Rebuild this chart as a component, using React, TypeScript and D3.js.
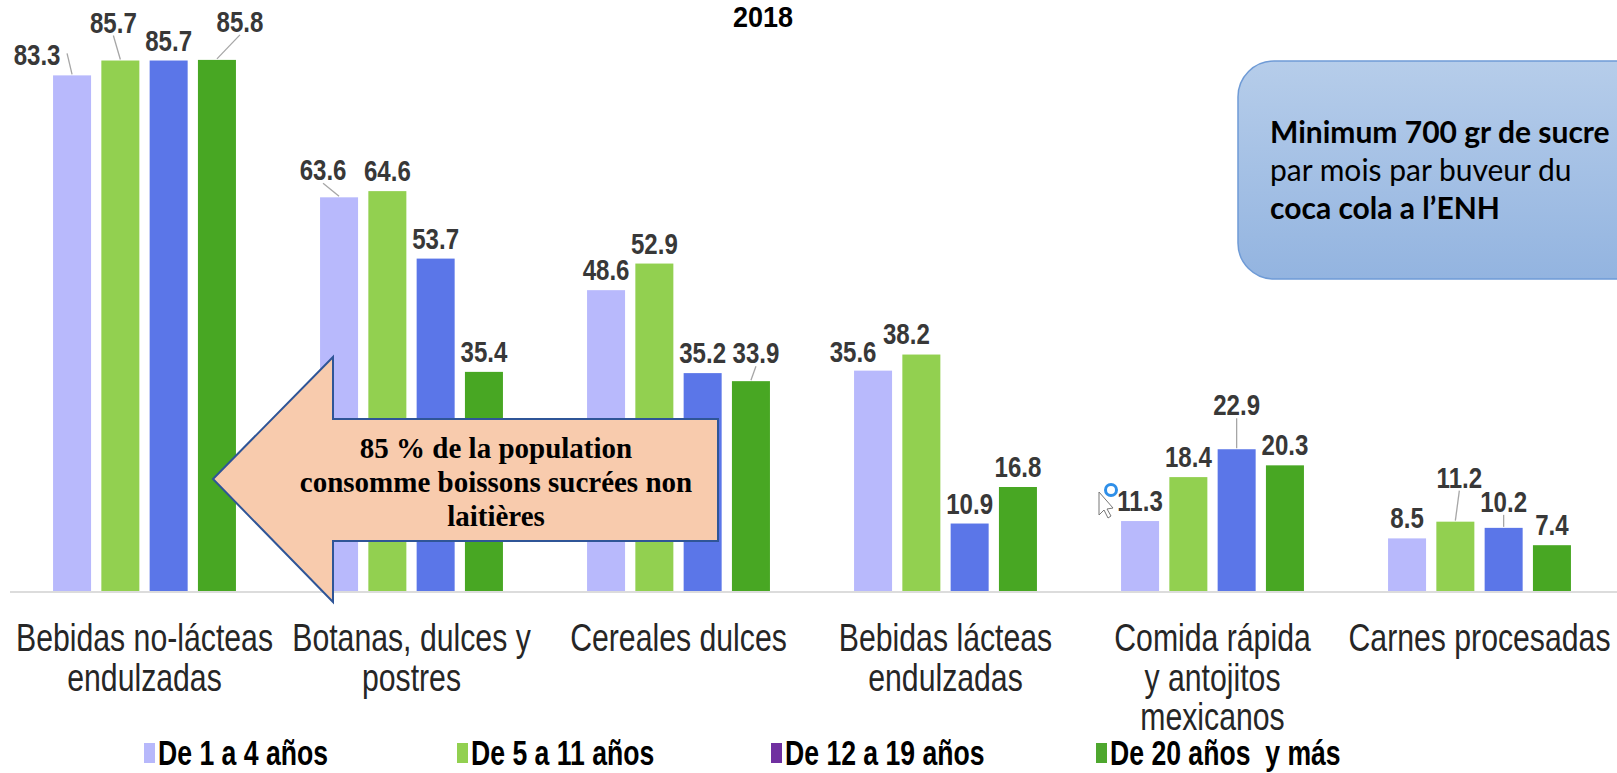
import React from "react";
import * as d3 from "d3";

const categoryLines: string[][] = [
  ["Bebidas no-lácteas", "endulzadas"],
  ["Botanas, dulces y", "postres"],
  ["Cereales dulces"],
  ["Bebidas lácteas", "endulzadas"],
  ["Comida rápida", "y antojitos", "mexicanos"],
  ["Carnes procesadas"],
];
const categories = categoryLines.map((l) => l.join(" "));

const seriesNames = ["De 1 a 4 años", "De 5 a 11 años", "De 12 a 19 años", "De 20 años  y más"];
const age1to4 = [83.3, 63.6, 48.6, 35.6, 11.3, 8.5];
const age5to11 = [85.7, 64.6, 52.9, 38.2, 18.4, 11.2];
const age12to19 = [85.7, 53.7, 35.2, 10.9, 22.9, 10.2];
const age20plus = [85.8, 35.4, 33.9, 16.8, 20.3, 7.4];
const seriesValues = [age1to4, age5to11, age12to19, age20plus];

const barColors = ["#b8b9fc", "#92d050", "#5b76e8", "#48a723"];
const legendColors = ["#b7b8fb", "#92d050", "#7030a0", "#4ea72e"];

// label placement tweaks (pixels, relative to bar top-centre): [dx, dy, leader]
const labelTweaks: Record<string, [number, number, boolean]> = {
  "0-0": [-35, -20, true],
  "0-1": [-7, -38, true],
  "0-3": [23, -38, true],
  "1-0": [-16, -27, true],
  "2-3": [5, -28, true],
  "3-0": [-20, -19, false],
  "3-1": [-15, -21, false],
  "4-2": [0, -44, true],
  "5-1": [4, -44, true],
  "5-2": [0, -26, true],
};

const W = 1617;
const H = 773;
const SANS = "'Liberation Sans', Arial, sans-serif";

function NText(props: {
  x: number;
  y: number;
  size: number;
  anchor?: string;
  weight?: string;
  fill?: string;
  sx?: number;
  children: React.ReactNode;
}) {
  const { x, y, size, anchor = "start", weight = "normal", fill = "#000", sx = 0.82, children } = props;
  return (
    <text
      transform={`translate(${x},${y}) scale(${sx},1)`}
      textAnchor={anchor}
      fontFamily={SANS}
      fontWeight={weight}
      fontSize={size}
      fill={fill}
      style={{ whiteSpace: "pre" }}
    >
      {children}
    </text>
  );
}

export default function App() {
  const x0 = d3.scaleBand<string>().domain(categories).range([11, 1613]).paddingInner(0.315).paddingOuter(0.1575);
  const x1 = d3.scaleBand<string>().domain(seriesNames).range([0, x0.bandwidth()]).paddingInner(0.213).paddingOuter(0);
  const y = d3.scaleLinear().domain([0, 100]).range([591, -28]);

  const bars: JSX.Element[] = [];
  const labels: JSX.Element[] = [];
  categories.forEach((c, gi) => {
    seriesNames.forEach((s, si) => {
      const v = seriesValues[si][gi];
      const bx = (x0(c) as number) + (x1(s) as number);
      const bw = x1.bandwidth();
      const top = y(v);
      bars.push(
        <rect key={`b${gi}-${si}`} x={bx} y={top} width={bw} height={y(0) - top} fill={barColors[si]} />
      );
      const cx = bx + bw / 2;
      const t = labelTweaks[`${gi}-${si}`] || [0, -20, false];
      const lx = cx + t[0];
      const ly = top + t[1];
      if (t[2]) {
        let sx: number, sy: number;
        if (Math.abs(t[0]) > 25) {
          sx = lx + Math.sign(cx - lx) * 30;
          sy = ly - 2;
        } else {
          sx = lx;
          sy = ly + 13;
        }
        labels.push(
          <line key={`l${gi}-${si}`} x1={sx} y1={sy} x2={cx} y2={top - 1} stroke="#a6a6a6" strokeWidth={1.3} />
        );
      }
      labels.push(
        <NText key={`t${gi}-${si}`} x={lx} y={ly + 10} anchor="middle" weight="bold" size={29} sx={0.83} fill="#383838">
          {v.toFixed(1)}
        </NText>
      );
    });
  });

  const legendX = [144, 457, 771, 1096];

  return (
    <svg
      width={W}
      height={H}
      style={{ position: "fixed", left: 0, top: 0, display: "block", background: "#fff" }}
      viewBox={`0 0 ${W} ${H}`}
    >
      <defs>
        <linearGradient id="boxGrad" x1="0" y1="0" x2="0" y2="1">
          <stop offset="0%" stopColor="#b6cdea" />
          <stop offset="100%" stopColor="#93b4e0" />
        </linearGradient>
      </defs>
      <rect x={0} y={0} width={W} height={H} fill="#ffffff" />

      <NText x={763} y={27} anchor="middle" weight="bold" size={30} sx={0.9}>
        2018
      </NText>

      <line x1={10} x2={1617} y1={592} y2={592} stroke="#dcdcdc" strokeWidth={2} />
      {bars}
      {labels}

      {categories.map((c, gi) => {
        const cx = (x0(c) as number) + x0.bandwidth() / 2;
        return (
          <g key={`c${gi}`}>
            {categoryLines[gi].map((ln, li) => (
              <NText key={li} x={cx} y={651 + li * 39.5} anchor="middle" size={39} sx={0.775} fill="#262626">
                {ln}
              </NText>
            ))}
          </g>
        );
      })}

      {seriesNames.map((s, si) => (
        <g key={`lg${si}`}>
          <rect x={legendX[si]} y={743} width={11} height={20} fill={legendColors[si]} />
          <NText x={legendX[si] + 14} y={765} weight="bold" size={35} sx={0.76}>
            {s}
          </NText>
        </g>
      ))}

      {/* blue callout */}
      <rect x={1238} y={61} width={440} height={218} rx={36} ry={36} fill="url(#boxGrad)" stroke="#6f9bd6" strokeWidth={1.5} />
      <text fontFamily="Lato, 'Open Sans', sans-serif" fontSize={30} fill="#000">
        <tspan x={1270} y={143} fontWeight="bold">Minimum 700 gr de sucre</tspan>
        <tspan x={1270} y={181}>par mois par buveur du</tspan>
        <tspan x={1270} y={219} fontWeight="bold">coca cola a l’ENH</tspan>
      </text>

      {/* orange arrow */}
      <polygon
        points="213,479 333,357 333,419 718,419 718,541 333,541 333,602"
        fill="#f8cbad"
        stroke="#2f5597"
        strokeWidth={2}
        strokeLinejoin="miter"
      />
      <text textAnchor="middle" fontFamily="'Liberation Serif', 'Times New Roman', serif" fontWeight="bold" fontSize={29} fill="#000">
        <tspan x={496} y={458}>85 % de la population</tspan>
        <tspan x={496} y={492}>consomme boissons sucrées non</tspan>
        <tspan x={496} y={526}>laitières</tspan>
      </text>

      {/* screen cursor captured in the screenshot */}
      <polygon points="1099,492 1099,515 1104,510 1108,518 1111,516 1107,509 1113,508" fill="#ffffff" stroke="#777" strokeWidth={1} />
      <circle cx={1111} cy={490} r={5.5} fill="none" stroke="#2f8fe8" strokeWidth={3} />
    </svg>
  );
}
